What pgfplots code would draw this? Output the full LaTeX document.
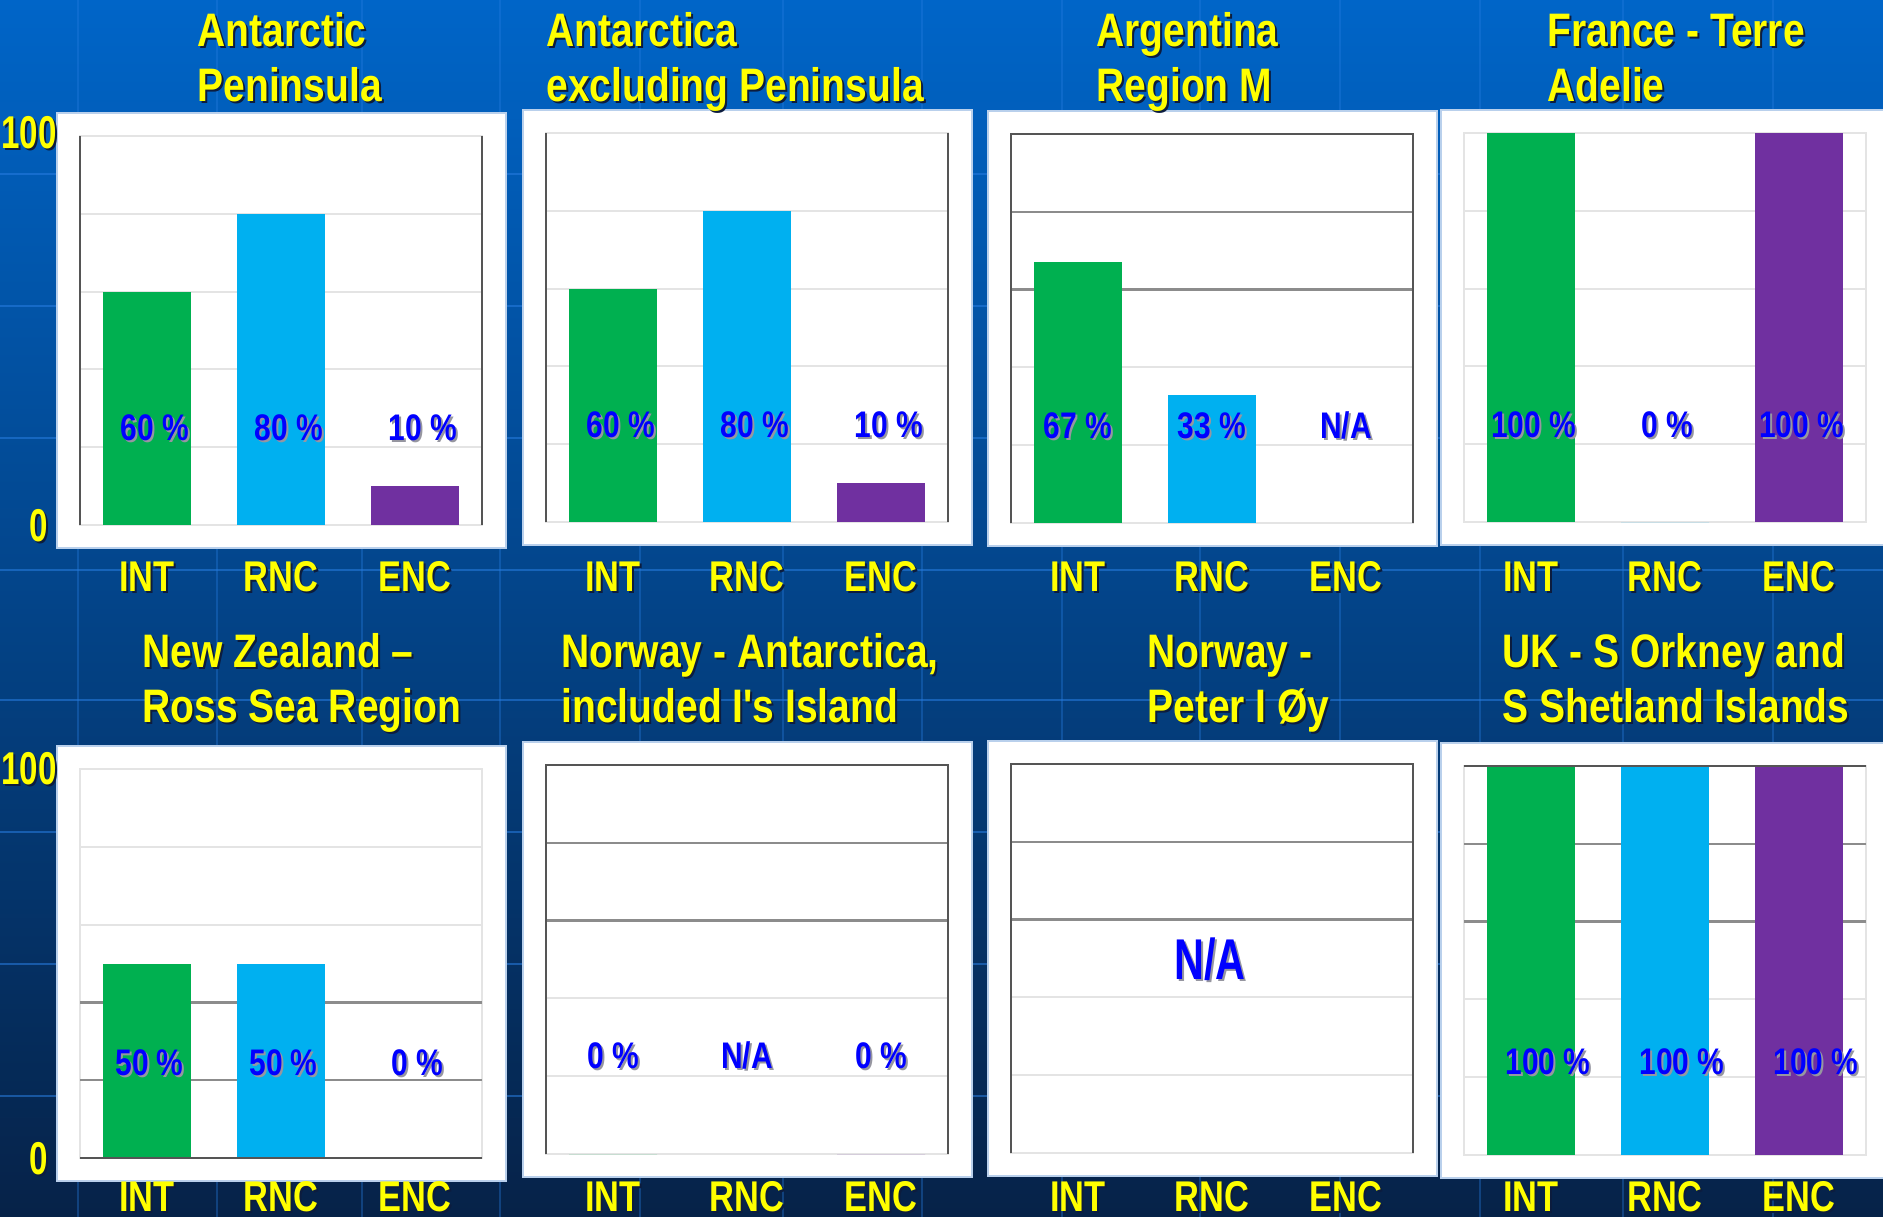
\documentclass[border=0pt]{standalone}
\usepackage{pgfplots}
\pgfplotsset{compat=1.18}
\usepackage{fontspec}
\setmainfont{Liberation Sans}
\newfontfamily\tf{Liberation Sans}[FakeStretch=0.83]
\newfontfamily\lf{Liberation Sans}[FakeStretch=0.80]
\newfontfamily\nf{Liberation Sans}[FakeStretch=0.72]
\newfontfamily\df{Liberation Sans}[FakeStretch=0.81]

\definecolor{cgreen}{RGB}{0,176,80}
\definecolor{ccyan}{RGB}{0,176,240}
\definecolor{cpurp}{RGB}{112,48,160}
\definecolor{ylw}{RGB}{255,255,0}
\definecolor{lblue}{RGB}{0,0,255}
\definecolor{yshc}{RGB}{12,28,62}
\definecolor{bshc}{RGB}{150,150,160}
\definecolor{lgrid}{RGB}{228,228,228}
\definecolor{dgrid}{RGB}{140,140,140}
\definecolor{dframe}{RGB}{85,85,85}
\definecolor{bgtop}{RGB}{0,101,200}
\definecolor{bgmid}{RGB}{0,72,150}
\definecolor{bgbot}{RGB}{6,34,72}
\definecolor{bgline}{RGB}{40,125,225}
\definecolor{boxedge}{RGB}{185,208,236}

\newcommand{\SH}[3]{\leavevmode\rlap{\kern0.8pt\raisebox{-0.8pt}{\textcolor{#2}{#3}}}\textcolor{#1}{#3}}
\newcommand{\YS}[1]{\SH{ylw}{yshc}{#1}}
\newcommand{\BS}[1]{\SH{lblue}{bshc}{#1}}
\newcommand{\titlefont}{\tf\bfseries\fontsize{18.8pt}{22pt}\selectfont}
\newcommand{\ttl}[4]{%
  \node[anchor=base west, inner sep=0pt, font=\titlefont] at (#1,#2) {\YS{#3}};
  \node[anchor=base west, inner sep=0pt, font=\titlefont] at (#1,{#2+55}) {\YS{#4}};}
\newcommand{\pbox}[4]{\draw[fill=white, draw=boxedge, line width=0.8pt] (#1,#2) rectangle (#3,#4);}

\pgfplotsset{
  panel/.style={
    scale only axis, width=160.8pt, height=155.6pt, anchor=south west,
    xmin=-0.5, xmax=2.5, ymin=0, ymax=100,
    axis line style={draw=lgrid, line width=0.8pt},
    ytick={0,20,40,60,80,100}, yticklabels={,,,,,},
    ymajorgrids, major grid style={draw=lgrid, line width=0.8pt},
    xtick={0,1,2}, xticklabels={\YS{INT},\YS{RNC},\YS{ENC}},
    xticklabel style={anchor=base, inner sep=0pt, font=\lf\bfseries\fontsize{17.2pt}{20pt}\selectfont, yshift=#1},
    tick style={draw=none},
    axis background/.style={fill=white},
    clip=false,
    extra y tick labels={,},
    extra y tick style={major grid style={draw=dgrid, line width=1pt}},
  },
  bars/.style={ybar, bar width=35.2pt, bar shift=0pt, draw=none, fill=#1, forget plot},
  lbl/.style={draw=none, mark=none, forget plot, point meta=explicit symbolic,
    nodes near coords={\BS{\pgfplotspointmeta}},
    every node near coord/.style={anchor=base, inner sep=0pt, xshift=#1,
      font=\df\bfseries\fontsize{14.8pt}{17pt}\selectfont}},
}

\begin{document}
\begin{tikzpicture}[x=0.4pt,y=-0.4pt]
\useasboundingbox (0,0) rectangle (1883,1217);
\clip (0,0) rectangle (1883,1217);
\shade[top color=bgtop, middle color=bgmid, bottom color=bgbot] (0,0) rectangle (1883,1217);
% faint background lines
\foreach \yy in {174,306,438,570,700,832,964,1096}
  \draw[bgline, opacity=0.55, line width=1pt] (0,\yy) -- (1883,\yy);
\foreach \xx in {78,217,362,500,640,783,922,1062,1200,1340,1480,1623,1773}
  \draw[bgline, opacity=0.35, line width=1pt] (\xx,0) -- (\xx,1217);

% white panels
\pbox{57}{113}{506}{548}
\pbox{523}{110}{972}{545}
\pbox{988}{111}{1437}{546}
\pbox{1441}{110}{1895}{545}
\pbox{57}{746}{506}{1181}
\pbox{523}{742}{972}{1177}
\pbox{988}{741}{1437}{1176}
\pbox{1441}{743}{1895}{1178}

% titles
\ttl{197}{47}{Antarctic}{Peninsula}
\ttl{546}{47}{Antarctica}{excluding Peninsula}
\ttl{1096}{47}{Argentina}{Region M}
\ttl{1547}{47}{France - Terre}{Adelie}
\ttl{142}{667}{New Zealand –}{Ross Sea Region}
\ttl{561}{667}{Norway - Antarctica,}{included I's Island}
\ttl{1147}{667}{Norway -}{Peter I Øy}
\ttl{1502}{667}{UK - S Orkney and}{S Shetland Islands}

% y scale labels
\node[anchor=base east, inner sep=0pt, font=\nf\bfseries\fontsize{18.4pt}{20pt}\selectfont] at (57,149) {\YS{100}};
\node[anchor=base east, inner sep=0pt, font=\nf\bfseries\fontsize{18.4pt}{20pt}\selectfont] at (48,541) {\YS{0}};
\node[anchor=base east, inner sep=0pt, font=\nf\bfseries\fontsize{18.4pt}{20pt}\selectfont] at (57,784) {\YS{100}};
\node[anchor=base east, inner sep=0pt, font=\nf\bfseries\fontsize{18.4pt}{20pt}\selectfont] at (48,1174) {\YS{0}};

% P1 Antarctic Peninsula
\begin{axis}[panel=-26.4pt, at={(32pt,-210pt)}]
\addplot[bars=cgreen] coordinates {(0,60)};
\addplot[bars=ccyan] coordinates {(1,80)};
\addplot[bars=cpurp] coordinates {(2,10)};
\addplot[lbl=3.2pt] coordinates {(0,21.8)[60 \%] (1,21.8)[80 \%] (2,21.8)[10 \%]};
\draw[dframe, line width=0.9pt] (rel axis cs:0,0) -- (rel axis cs:0,1);
\draw[dframe, line width=0.9pt] (rel axis cs:1,0) -- (rel axis cs:1,1);
\end{axis}

% P2 Antarctica excluding Peninsula
\begin{axis}[panel=-27.6pt, at={(218.4pt,-208.8pt)}]
\addplot[bars=cgreen] coordinates {(0,60)};
\addplot[bars=ccyan] coordinates {(1,80)};
\addplot[bars=cpurp] coordinates {(2,10)};
\addplot[lbl=3.2pt] coordinates {(0,21.8)[60 \%] (1,21.8)[80 \%] (2,21.8)[10 \%]};
\draw[dframe, line width=0.9pt] (rel axis cs:0,0) -- (rel axis cs:0,1);
\draw[dframe, line width=0.9pt] (rel axis cs:1,0) -- (rel axis cs:1,1);
\end{axis}

% P3 Argentina Region M
\begin{axis}[panel=-27.2pt, at={(404.4pt,-209.2pt)}, extra y ticks={60,80}]
\addplot[bars=cgreen] coordinates {(0,67)};
\addplot[bars=ccyan] coordinates {(1,33)};
\addplot[lbl=0pt] coordinates {(0,21.8)[67 \%] (1,21.8)[33 \%] (2,21.8)[N/A]};
\draw[dframe, line width=0.9pt] (rel axis cs:0,0) -- (rel axis cs:0,1) -- (rel axis cs:1,1) -- (rel axis cs:1,0);
\end{axis}

% P4 France - Terre Adelie
\begin{axis}[panel=-27.6pt, at={(585.6pt,-208.8pt)}]
\addplot[bars=cgreen] coordinates {(0,100)};
\addplot[bars=ccyan] coordinates {(1,0)};
\addplot[bars=cpurp] coordinates {(2,100)};
\addplot[lbl=1pt] coordinates {(0,21.8)[100 \%] (1,21.8)[0 \%] (2,21.8)[100 \%]};
\end{axis}

% P5 New Zealand - Ross Sea Region
\begin{axis}[panel=-21.2pt, at={(32pt,-463.2pt)}, extra y ticks={20,40}]
\addplot[bars=cgreen] coordinates {(0,50)};
\addplot[bars=ccyan] coordinates {(1,50)};
\addplot[bars=cpurp] coordinates {(2,0)};
\addplot[lbl=1pt] coordinates {(0,21.3)[50 \%] (1,21.3)[50 \%] (2,21.3)[0 \%]};
\draw[dframe, line width=0.9pt] (rel axis cs:0,0) -- (rel axis cs:1,0);
\end{axis}

% P6 Norway - Antarctica, included I's Island
\begin{axis}[panel=-22.8pt, at={(218.4pt,-461.6pt)}, extra y ticks={60,80}]
\addplot[bars=cgreen] coordinates {(0,0)};
\addplot[bars=cpurp] coordinates {(2,0)};
\addplot[lbl=0pt] coordinates {(0,22)[0 \%] (1,22)[N/A] (2,22)[0 \%]};
\draw[dframe, line width=0.9pt] (rel axis cs:0,0) -- (rel axis cs:0,1) -- (rel axis cs:1,1) -- (rel axis cs:1,0);
\end{axis}

% P7 Norway - Peter I Oy
\begin{axis}[panel=-23.2pt, at={(404.4pt,-461.2pt)}, extra y ticks={60,80}]
\addplot[lbl=-0.8pt, every node near coord/.append style={font=\nf\bfseries\fontsize{23pt}{26pt}\selectfont}] coordinates {(1,44.7)[N/A]};
\draw[dframe, line width=0.9pt] (rel axis cs:0,0) -- (rel axis cs:0,1) -- (rel axis cs:1,1) -- (rel axis cs:1,0);
\end{axis}

% P8 UK - S Orkney and S Shetland Islands
\begin{axis}[panel=-22.4pt, at={(585.6pt,-462pt)}, extra y ticks={60,80}]
\addplot[bars=cgreen] coordinates {(0,100)};
\addplot[bars=ccyan] coordinates {(1,100)};
\addplot[bars=cpurp] coordinates {(2,100)};
\addplot[lbl=6.8pt] coordinates {(0,20.8)[100 \%] (1,20.8)[100 \%] (2,20.8)[100 \%]};
\draw[dframe, line width=0.9pt] (rel axis cs:0,1) -- (rel axis cs:1,1);
\end{axis}
\end{tikzpicture}
\end{document}
